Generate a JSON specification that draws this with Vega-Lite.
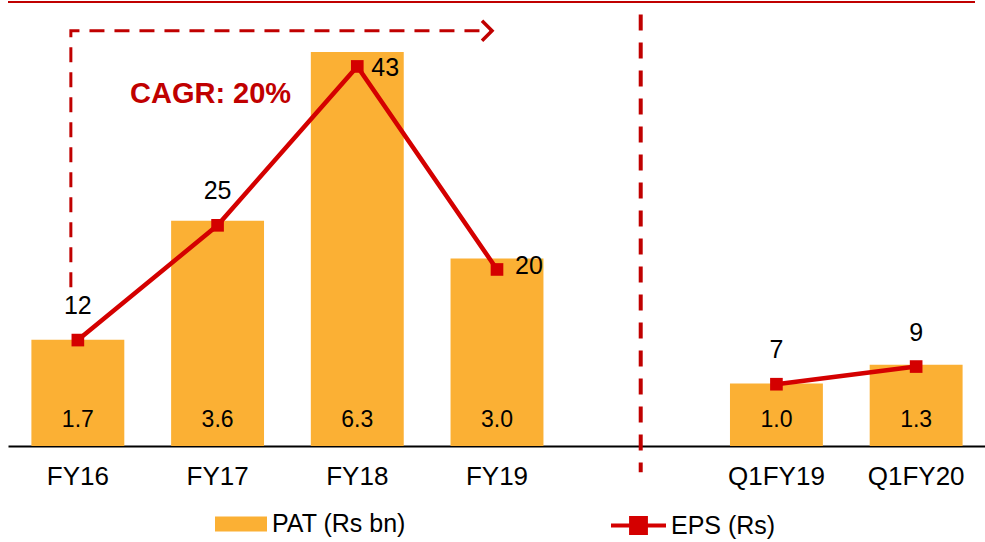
{
  "$schema": "https://vega.github.io/schema/vega-lite/v6.json",
  "width": 978,
  "height": 444,
  "autosize": {"type": "none"},
  "padding": {"left": 8, "top": 2, "right": 0, "bottom": 96},
  "background": "white",
  "config": {
    "view": {"stroke": null},
    "font": "Liberation Sans",
    "text": {"font": "Liberation Sans"}
  },
  "datasets": {
    "main": [
      {"cat": "FY16", "pat": 1.7, "eps": 12, "patLabel": "1.7"},
      {"cat": "FY17", "pat": 3.6, "eps": 25, "patLabel": "3.6"},
      {"cat": "FY18", "pat": 6.3, "eps": 43, "patLabel": "6.3"},
      {"cat": "FY19", "pat": 3.0, "eps": 20, "patLabel": "3.0"},
      {"cat": "Q1FY19", "pat": 1.0, "eps": 7, "patLabel": "1.0"},
      {"cat": "Q1FY20", "pat": 1.3, "eps": 9, "patLabel": "1.3"}
    ],
    "arrow": [
      {"cat": "FY16", "v": 2.54, "o": 1},
      {"cat": "FY16", "v": 6.64, "o": 2},
      {"cat": "FY19", "v": 6.64, "o": 3}
    ]
  },
  "encoding": {
    "x": {
      "field": "cat",
      "type": "nominal",
      "sort": null,
      "scale": {
        "domain": ["FY16", "FY17", "FY18", "FY19", " ", "Q1FY19", "Q1FY20"],
        "paddingInner": 0.335,
        "paddingOuter": 0.1675
      },
      "axis": {
        "title": null,
        "labelAngle": 0,
        "labelFontSize": 26,
        "labelColor": "#000000",
        "labelFont": "Liberation Sans",
        "labelPadding": 17,
        "ticks": false,
        "domainColor": "#000000",
        "domainWidth": 2
      }
    }
  },
  "layer": [
    {
      "data": {"name": "main"},
      "mark": {"type": "bar", "clip": false},
      "encoding": {
        "y": {"field": "pat", "type": "quantitative", "scale": {"domain": [0, 7.1]}, "axis": null},
        "fill": {
          "datum": "PAT (Rs bn)",
          "scale": {"range": ["#FBB034"]},
          "legend": {
            "title": null,
            "orient": "none",
            "legendX": 207,
            "legendY": 496,
            "symbolType": "M-1,-0.29H1V0.29H-1Z",
            "symbolSize": 2704,
            "symbolStrokeWidth": 0,
            "labelFontSize": 25,
            "labelColor": "#000000",
            "labelFont": "Liberation Sans",
            "labelOffset": 5,
            "padding": 0
          }
        }
      }
    },
    {
      "data": {"name": "main"},
      "mark": {"type": "text", "fontSize": 23, "color": "#000000", "baseline": "middle", "dy": -26},
      "encoding": {
        "y": {"datum": 0, "type": "quantitative", "scale": {"domain": [0, 7.1]}, "axis": null},
        "text": {"field": "patLabel"}
      }
    },
    {
      "data": {"name": "main"},
      "transform": [{"filter": "datum.cat === 'FY16' || datum.cat === 'FY17' || datum.cat === 'FY18' || datum.cat === 'FY19'"}],
      "mark": {"type": "line", "strokeWidth": 4.5, "clip": false},
      "encoding": {
        "y": {"field": "eps", "type": "quantitative", "scale": {"domain": [0, 50.3]}, "axis": null},
        "stroke": {
          "datum": "EPS (Rs)",
          "scale": {"range": ["#D40000"]},
          "legend": {
            "title": null,
            "orient": "none",
            "legendX": 601,
            "legendY": 494,
            "symbolType": "M-1,0H1M-0.27,-0.27H0.27V0.27H-0.27Z",
            "symbolSize": 3025,
            "symbolStrokeWidth": 4,
            "symbolFillColor": "#D40000",
            "symbolStrokeColor": "#D40000",
            "labelFontSize": 25,
            "labelColor": "#000000",
            "labelFont": "Liberation Sans",
            "labelOffset": 3,
            "padding": 0
          }
        }
      }
    },
    {
      "data": {"name": "main"},
      "transform": [{"filter": "datum.cat === 'Q1FY19' || datum.cat === 'Q1FY20'"}],
      "mark": {"type": "line", "strokeWidth": 4.5, "color": "#D40000", "clip": false},
      "encoding": {
        "y": {"field": "eps", "type": "quantitative", "scale": {"domain": [0, 50.3]}, "axis": null}
      }
    },
    {
      "data": {"name": "main"},
      "mark": {"type": "point", "shape": "square", "size": 160, "filled": true, "color": "#D40000", "opacity": 1},
      "encoding": {
        "y": {"field": "eps", "type": "quantitative", "scale": {"domain": [0, 50.3]}, "axis": null}
      }
    },
    {
      "data": {"name": "main"},
      "transform": [{"filter": "datum.cat !== 'FY18' && datum.cat !== 'FY19'"}],
      "mark": {"type": "text", "fontSize": 25, "color": "#000000", "baseline": "middle", "dy": -34},
      "encoding": {
        "y": {"field": "eps", "type": "quantitative", "scale": {"domain": [0, 50.3]}, "axis": null},
        "text": {"field": "eps"}
      }
    },
    {
      "data": {"name": "main"},
      "transform": [{"filter": "datum.cat === 'FY18'"}],
      "mark": {"type": "text", "fontSize": 25, "color": "#000000", "baseline": "middle", "align": "left", "dx": 14, "dy": 2},
      "encoding": {
        "y": {"field": "eps", "type": "quantitative", "scale": {"domain": [0, 50.3]}, "axis": null},
        "text": {"field": "eps"}
      }
    },
    {
      "data": {"name": "main"},
      "transform": [{"filter": "datum.cat === 'FY19'"}],
      "mark": {"type": "text", "fontSize": 25, "color": "#000000", "baseline": "middle", "align": "left", "dx": 18, "dy": -3},
      "encoding": {
        "y": {"field": "eps", "type": "quantitative", "scale": {"domain": [0, 50.3]}, "axis": null},
        "text": {"field": "eps"}
      }
    },
    {
      "data": {"name": "main"},
      "transform": [{"filter": "datum.cat === 'FY16'"}],
      "mark": {"type": "rule", "color": "#C00000", "strokeWidth": 2, "clip": false},
      "encoding": {
        "x": {"value": 0},
        "x2": {"value": 967},
        "y": {"datum": 7.1, "type": "quantitative", "scale": {"domain": [0, 7.1]}, "axis": null}
      }
    },
    {
      "data": {"name": "main"},
      "transform": [{"filter": "datum.cat === 'FY16'"}],
      "mark": {"type": "rule", "color": "#C00000", "strokeWidth": 4, "strokeDash": [16, 12], "xOffset": 4, "clip": false},
      "encoding": {
        "x": {"datum": " ", "bandPosition": 0.5},
        "y": {"datum": 6.9, "type": "quantitative", "scale": {"domain": [0, 7.1]}, "axis": null},
        "y2": {"datum": -0.42}
      }
    },
    {
      "data": {"name": "arrow"},
      "mark": {"type": "line", "color": "#C00000", "strokeWidth": 3, "strokeDash": [15, 10], "xOffset": -7, "clip": false},
      "encoding": {
        "y": {"field": "v", "type": "quantitative", "scale": {"domain": [0, 7.1]}, "axis": null},
        "order": {"field": "o"}
      }
    },
    {
      "data": {"name": "arrow"},
      "transform": [{"filter": "datum.o === 3"}],
      "mark": {"type": "point", "shape": "M-1,-1L0,0L-1,1", "size": 400, "filled": false, "color": "#C00000", "strokeWidth": 3.5, "opacity": 1, "xOffset": -5},
      "encoding": {
        "y": {"field": "v", "type": "quantitative", "scale": {"domain": [0, 7.1]}, "axis": null}
      }
    },
    {
      "data": {"name": "main"},
      "transform": [{"filter": "datum.cat === 'FY17'"}],
      "mark": {"type": "text", "fontSize": 29, "fontWeight": "bold", "color": "#C00000", "baseline": "middle", "xOffset": -7},
      "encoding": {
        "y": {"datum": 5.63, "type": "quantitative", "scale": {"domain": [0, 7.1]}, "axis": null},
        "text": {"value": "CAGR: 20%"}
      }
    }
  ],
  "resolve": {"scale": {"y": "independent"}}
}
